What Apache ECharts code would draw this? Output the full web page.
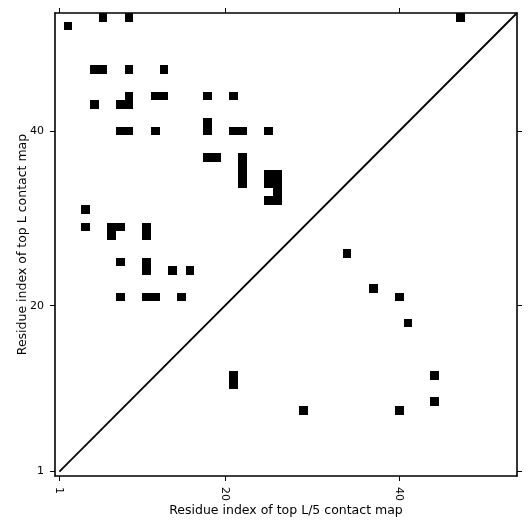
<!DOCTYPE html>
<html>
<head>
<meta charset="utf-8">
<script src="https://cdn.jsdelivr.net/npm/echarts@6/dist/echarts.min.js"></script>
<style>
  html, body { margin: 0; padding: 0; background: #fff; }
  #chart { width: 531px; height: 531px; }
</style>
</head>
<body>
<div id="chart"></div>
<script>
// contact map, L = 53 residues
var seqLen = 53;
var tickValues = [1, 20, 40];

// predicted contacts [i, j] (column, row)
var contactCells = [
  [2, 52], [6, 53], [9, 53], [47, 53],
  [5, 47], [6, 47], [9, 47], [13, 47],
  [9, 44], [12, 44], [13, 44], [18, 44], [21, 44],
  [5, 43], [8, 43], [9, 43],
  [18, 41],
  [8, 40], [9, 40], [12, 40], [18, 40], [21, 40], [22, 40], [25, 40],
  [18, 37], [19, 37], [22, 37],
  [22, 36],
  [22, 35], [25, 35], [26, 35],
  [22, 34], [25, 34], [26, 34],
  [26, 33],
  [25, 32], [26, 32],
  [4, 31],
  [4, 29], [7, 29], [8, 29], [11, 29],
  [7, 28], [11, 28],
  [34, 26],
  [8, 25], [11, 25],
  [11, 24], [14, 24], [16, 24],
  [37, 22],
  [8, 21], [11, 21], [12, 21], [15, 21], [40, 21],
  [41, 18],
  [21, 12], [44, 12],
  [21, 11],
  [44, 9],
  [29, 8], [40, 8]
];

// diagonal
var diagLine = [[1, 1], [53.5, 53.5]];

var fontFam = "DejaVu Sans";
var chart = echarts.init(document.getElementById("chart"), null, { renderer: "canvas" });

function makeAxis(pos, showLabel, name) {
  var ax = {
    type: "value",
    position: pos,
    min: 0.5,
    max: seqLen + 0.5,
    splitLine: { show: false },
    axisLine: { show: true, onZero: false, lineStyle: { color: "#000", width: 1.6 } },
    axisTick: { show: true, inside: false, length: 5, customValues: tickValues, lineStyle: { color: "#000", width: 1 } },
    axisLabel: {
      show: showLabel,
      customValues: tickValues,
      color: "#000",
      fontFamily: fontFam,
      fontSize: 11,
      margin: 11
    }
  };
  if (name) {
    ax.name = name;
    ax.nameLocation = "middle";
    ax.nameMoveOverlap = false;
    ax.nameTextStyle = { color: "#000", fontFamily: fontFam, fontSize: 12.5 };
  }
  return ax;
}

var xBottom = makeAxis("bottom", true, "Residue index of top L/5 contact map");
xBottom.axisLabel.rotate = -90;
xBottom.nameGap = 28;
var xTop = makeAxis("top", false);
var yLeft = makeAxis("left", true, "Residue index of top L contact map");
yLeft.nameGap = 26;
var yRight = makeAxis("right", false);

var option = {
  animation: false,
  backgroundColor: "#fff",
  grid: { left: 55, right: 14, top: 13, bottom: 55, containLabel: false },
  xAxis: [xBottom, xTop],
  yAxis: [yLeft, yRight],
  series: [
    {
      type: "custom",
      xAxisIndex: 0,
      yAxisIndex: 0,
      data: contactCells,
      renderItem: function (params, api) {
        var x = api.value(0), y = api.value(1);
        var p0 = api.coord([x - 0.5, y + 0.5]);
        var p1 = api.coord([x + 0.5, y - 0.5]);
        var x0 = Math.round(p0[0]), y0 = Math.round(p0[1]);
        var x1 = Math.round(p1[0]), y1 = Math.round(p1[1]);
        return {
          type: "rect",
          shape: { x: x0, y: y0, width: x1 - x0, height: y1 - y0 },
          style: { fill: "#000" }
        };
      }
    },
    {
      type: "line",
      xAxisIndex: 0,
      yAxisIndex: 0,
      data: diagLine,
      symbol: "none",
      lineStyle: { color: "#000", width: 1.8 }
    }
  ]
};
chart.setOption(option);
</script>
</body>
</html>
